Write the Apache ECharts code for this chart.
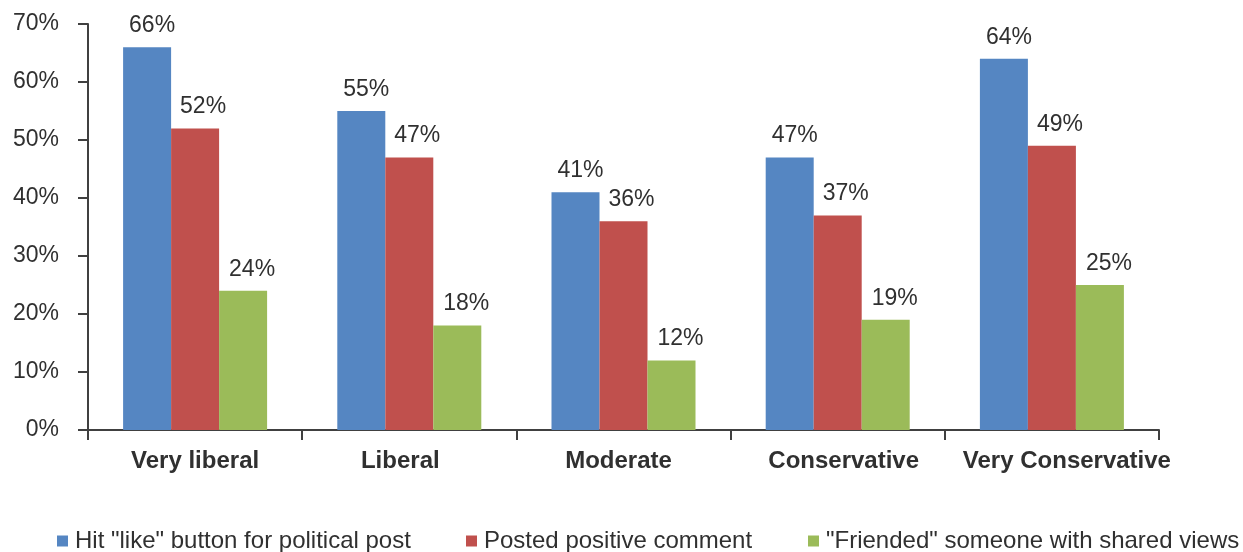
<!DOCTYPE html>
<html><head><meta charset="utf-8">
<script src="https://cdn.jsdelivr.net/npm/echarts@6/dist/echarts.min.js"></script>
<style>html,body{margin:0;padding:0;background:#fff}#c{width:1243px;height:552px}</style>
</head><body><div id="c"></div>
<script>
const categories = ["Very liberal", "Liberal", "Moderate", "Conservative", "Very Conservative"];
const seriesNames = ['Hit "like" button for political post', 'Posted positive comment', '"Friended" someone with shared views'];
const likeVals = [66, 55, 41, 47, 64];
const commentVals = [52, 47, 36, 37, 49];
const friendVals = [24, 18, 12, 19, 25];
const colors = ['#5586C2', '#C0504D', '#9BBB59'];
const font = 'Liberation Sans, Arial, sans-serif';
const txt = '#303030';
const chart = echarts.init(document.getElementById('c'));
const valuesList = [likeVals, commentVals, friendVals];
const legendLefts = [57, 466, 808];
const labelShifts = [0, -9, -5, 6, 15];
const valueLabelShift = [5, 8, 9];
const rich = {};
labelShifts.forEach((s, i) => {
  rich['c' + i] = {fontFamily: font, fontSize: 24, fontWeight: 'bold', color: txt,
    padding: s >= 0 ? [0, 0, 0, 2 * s] : [0, -2 * s, 0, 0]};
});
chart.setOption({
  animation: false,
  grid: {left: 88, right: 84, top: 24, bottom: 122, containLabel: false},
  legend: seriesNames.map((n, i) => ({
    data: [n], left: legendLefts[i], top: 529, padding: 0, itemWidth: 11, itemHeight: 11, itemGap: 6,
    icon: 'rect',
    textStyle: {fontFamily: font, fontSize: 24, color: txt, padding: [0,0,0,2]}
  })),
  xAxis: {
    type: 'category', data: categories,
    axisLine: {lineStyle: {color: '#404040', width: 2}},
    axisTick: {show: true, interval: 0, length: 10, lineStyle: {color: '#404040', width: 2}},
    axisLabel: {interval: 0, fontFamily: font, fontSize: 24, fontWeight: 'bold', color: txt, margin: 19,
      formatter: (v, idx) => '{c' + idx + '|' + v + '}', rich: rich}
  },
  yAxis: {
    type: 'value', min: 0, max: 70, interval: 10,
    splitLine: {show: false},
    axisLine: {show: true, lineStyle: {color: '#404040', width: 2}},
    axisTick: {show: true, length: 10, lineStyle: {color: '#404040', width: 2}},
    axisLabel: {fontFamily: font, fontSize: 23, color: txt, margin: 29, formatter: '{value}%'}
  },
  series: valuesList.map((vals, i) => ({
    name: seriesNames[i], type: 'bar', data: vals,
    barWidth: 48, barGap: '0%',
    itemStyle: {color: colors[i]},
    label: {show: true, position: 'top', distance: 10, offset: [valueLabelShift[i], 0], formatter: '{c}%',
      fontFamily: font, fontSize: 23, color: txt}
  }))
});
</script></body></html>
